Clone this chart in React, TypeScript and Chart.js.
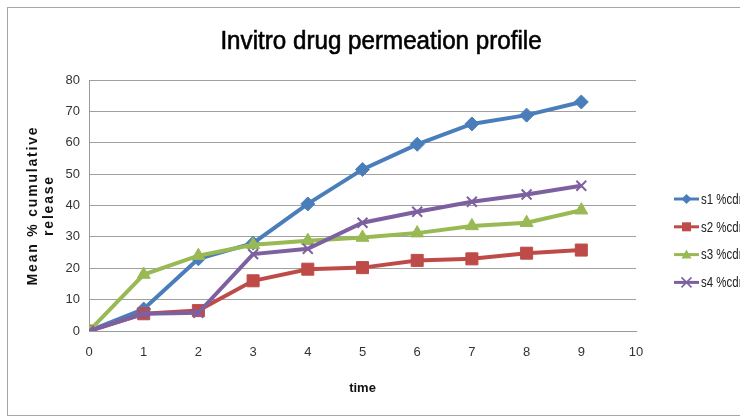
import React, { useEffect, useRef } from "react";
import { Chart, registerables } from "chart.js";

Chart.register(...registerables);

const chartTitle = "Invitro drug permeation profile";
const xTitle = "time";
const yTitle = ["Mean % cumulative", "release"];
const times = [0, 1, 2, 3, 4, 5, 6, 7, 8, 9];
const s1 = [0, 7, 23, 28, 40.5, 51.5, 59.5, 66, 68.8, 73];
const s2 = [0, 5.5, 6.5, 16, 19.7, 20.2, 22.5, 23, 24.8, 25.8];
const s3 = [0, 18, 24, 27.5, 28.8, 29.8, 31.2, 33.5, 34.5, 38.5];
const s4 = [0, 5.5, 5.8, 24.5, 26.2, 34.5, 38, 41.2, 43.5, 46.3];
const seriesNames = ["s1 %cdr", "s2 %cdr", "s3 %cdr", "s4 %cdr"];
const seriesValues = [s1, s2, s3, s4];
const colors = ["#4A7EBB", "#BE4B48", "#98B954", "#7D60A0"];
const markers = ["rectRot", "rect", "triangle", "crossRot"];
const markerRadius = [7, 8.5, 7.5, 7];
const xMin = 0, xMax = 10, xStep = 1;
const yMin = 0, yMax = 80, yStep = 10;

const SANS = "'Liberation Sans', Arial, sans-serif";

function drawMarker(ctx: CanvasRenderingContext2D, style: string, x: number, y: number, r: number, color: string) {
  ctx.save();
  ctx.fillStyle = color;
  ctx.strokeStyle = color;
  ctx.beginPath();
  if (style === "rectRot") {
    ctx.moveTo(x, y - r); ctx.lineTo(x + r, y); ctx.lineTo(x, y + r); ctx.lineTo(x - r, y); ctx.closePath(); ctx.fill();
  } else if (style === "rect") {
    ctx.rect(x - r, y - r, 2 * r, 2 * r); ctx.fill();
  } else if (style === "triangle") {
    ctx.moveTo(x, y - r); ctx.lineTo(x + r, y + r * 0.8); ctx.lineTo(x - r, y + r * 0.8); ctx.closePath(); ctx.fill();
  } else {
    ctx.lineWidth = 1.5;
    ctx.moveTo(x - r, y - r); ctx.lineTo(x + r, y + r); ctx.moveTo(x + r, y - r); ctx.lineTo(x - r, y + r); ctx.stroke();
  }
  ctx.restore();
}

const decorPlugin = {
  id: "decor",
  afterDraw(chart: any) {
    const ctx = chart.ctx as CanvasRenderingContext2D;
    ctx.save();
    // frame
    ctx.strokeStyle = "#A6A6A6";
    ctx.lineWidth = 1;
    ctx.strokeRect(7.5, 7.5, 740, 408);
    // title (condensed look)
    ctx.save();
    ctx.fillStyle = "#000";
    ctx.strokeStyle = "#000";
    ctx.lineWidth = 0.6;
    ctx.font = `26px ${SANS}`;
    ctx.textAlign = "center";
    ctx.textBaseline = "alphabetic";
    ctx.translate(381, 49);
    ctx.scale(0.93, 1);
    ctx.fillText(chartTitle, 0, 0);
    ctx.strokeText(chartTitle, 0, 0);
    ctx.restore();
    // y axis title
    ctx.save();
    ctx.fillStyle = "#111";
    ctx.font = `bold 14px ${SANS}`;
    ctx.textAlign = "center";
    ctx.textBaseline = "middle";
    const area = chart.chartArea;
    const cy = (area.top + area.bottom) / 2;
    const xs = [33, 49];
    yTitle.forEach((line, i) => {
      ctx.save();
      ctx.translate(xs[i], cy);
      ctx.rotate(-Math.PI / 2);
      (ctx as any).letterSpacing = "1.8px";
      ctx.fillText(line, 0, 0);
      ctx.restore();
    });
    ctx.restore();
    // legend
    const y0 = 199, dy = 27.8;
    ctx.font = `14px ${SANS}`;
    ctx.textAlign = "left";
    ctx.textBaseline = "middle";
    seriesNames.forEach((name, i) => {
      const y = y0 + i * dy;
      ctx.strokeStyle = colors[i];
      ctx.lineWidth = 3;
      ctx.beginPath();
      ctx.moveTo(674, y);
      ctx.lineTo(699, y);
      ctx.stroke();
      drawMarker(ctx, markers[i], 686.5, y, i === 1 ? 4.5 : 5, colors[i]);
      ctx.save();
      ctx.fillStyle = "#222";
      ctx.translate(701, y + 1);
      ctx.scale(0.82, 1);
      ctx.fillText(name, 0, 0);
      ctx.restore();
    });
    ctx.restore();
  },
};

export default function App() {
  const ref = useRef<HTMLCanvasElement>(null);
  useEffect(() => {
    if (!ref.current) return;
    const datasets = seriesValues.map((vals, i) => ({
      label: seriesNames[i],
      data: times.map((t, j) => ({ x: t, y: vals[j] })),
      borderColor: colors[i],
      backgroundColor: colors[i],
      borderWidth: 4,
      pointStyle: markers[i] as any,
      pointRadius: markerRadius[i],
      pointBorderWidth: i === 3 ? 2 : 1,
      pointBackgroundColor: colors[i],
      pointBorderColor: colors[i],
      tension: 0,
      order: 3 - i,
    }));
    const chart = new Chart(ref.current, {
      type: "line",
      data: { datasets },
      options: {
        animation: false,
        responsive: false,
        maintainAspectRatio: false,
        layout: { padding: { top: 80, right: 104, bottom: 0, left: 0 } },
        plugins: { legend: { display: false }, tooltip: { enabled: false }, title: { display: false } },
        scales: {
          x: {
            type: "linear",
            min: xMin,
            max: xMax,
            afterFit: (s: any) => { s.height = 86; },
            ticks: { stepSize: xStep, color: "#333", font: { family: SANS, size: 13 }, padding: 14 },
            grid: { display: false, drawTicks: false },
            border: { display: true, color: "#999", width: 1 },
            title: { display: true, text: xTitle, color: "#111", font: { family: SANS, size: 13, weight: "bold" }, padding: { top: 4, bottom: 21 } },
          },
          y: {
            min: yMin,
            max: yMax,
            afterFit: (s: any) => { s.width = 89; },
            ticks: { stepSize: yStep, color: "#333", font: { family: SANS, size: 13 }, padding: 9 },
            grid: { color: "#A0A0A0", drawTicks: false, lineWidth: 1 },
            border: { display: true, color: "#999", width: 1 },
            title: { display: false },
          },
        },
      },
      plugins: [decorPlugin],
    });
    return () => chart.destroy();
  }, []);
  return (
    <div style={{ position: "fixed", left: 0, top: 0, width: 740, height: 417, background: "#fff" }}>
      <canvas ref={ref} width={740} height={417} style={{ width: 740, height: 417 }} />
    </div>
  );
}
